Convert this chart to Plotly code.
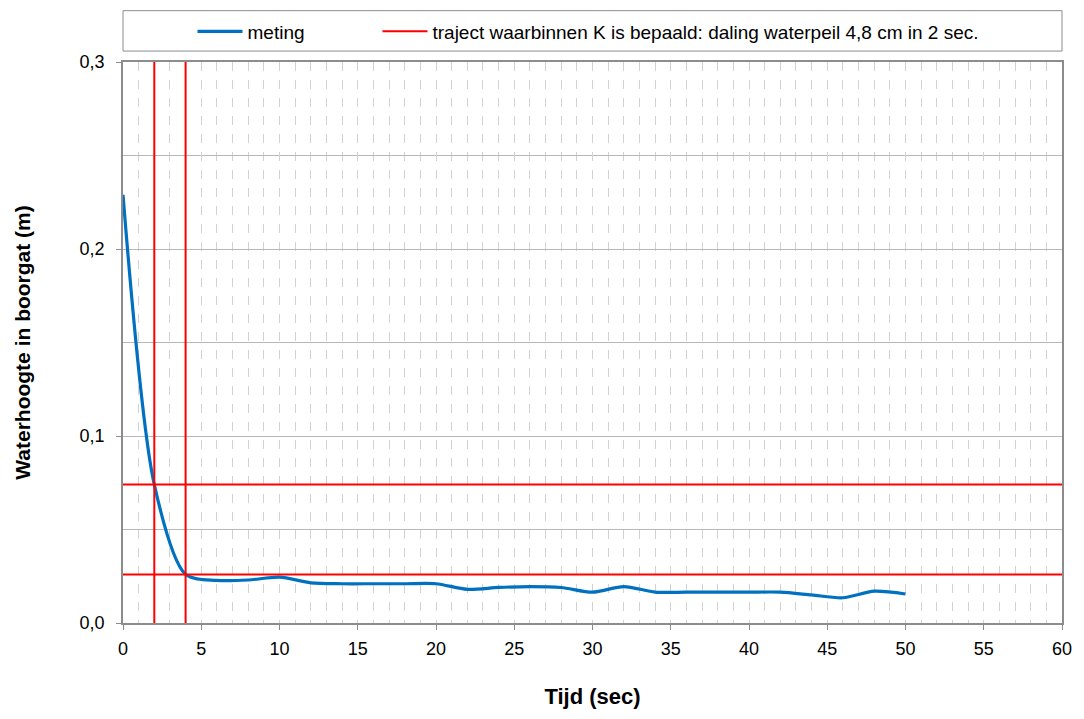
import plotly.graph_objects as go

# Measured water level in the borehole (every 2 seconds)
tijd = [0, 2, 4, 6, 8, 10, 12, 14, 16, 18, 20, 22, 24, 26, 28, 30, 32, 34, 36, 38, 40, 42, 44, 46, 48, 50]
waterhoogte = [0.229, 0.074, 0.026, 0.0228, 0.023, 0.0245, 0.0215, 0.021, 0.021, 0.021, 0.021,
               0.018, 0.019, 0.0195, 0.019, 0.0165, 0.0195, 0.0165, 0.0165, 0.0165, 0.0165,
               0.0165, 0.015, 0.0135, 0.017, 0.0155]

# Interval used to determine K
traject_t = [2, 4]
traject_h = [0.074, 0.026]

x_range = [0, 60]
y_range = [0, 0.3]

FONT = "Liberation Sans, Arial, sans-serif"

fig = go.Figure()

fig.add_trace(go.Scatter(
    x=tijd, y=waterhoogte, mode="lines", name="meting", legend="legend",
    line=dict(color="#0070c0", width=3.2, shape="spline", smoothing=0.8),
))

rx, ry = [], []
for t in traject_t:
    rx += [t, t, None]
    ry += [y_range[0], y_range[1], None]
for h in traject_h:
    rx += [x_range[0], x_range[1], None]
    ry += [h, h, None]

fig.add_trace(go.Scatter(
    x=rx, y=ry, mode="lines", legend="legend2",
    name="traject waarbinnen K is bepaald: daling waterpeil 4,8 cm in 2 sec.",
    line=dict(color="#ff0000", width=2),
))

# Legend frame spanning the plot width
fig.add_shape(type="rect", xref="paper", yref="paper", x0=0, x1=1, y0=1.0195, y1=1.0915,
              line=dict(color="#8c8c8c", width=1), fillcolor="rgba(0,0,0,0)")

legend_common = dict(orientation="h", y=1.0545, xanchor="left", yanchor="middle",
                     bgcolor="rgba(0,0,0,0)", font=dict(family=FONT, size=19), itemwidth=45)

fig.update_layout(
    width=1084, height=719,
    margin=dict(l=123, r=17, t=60, b=96),
    paper_bgcolor="white", plot_bgcolor="white",
    separators=",.",
    font=dict(family=FONT, size=18, color="#000000"),
    showlegend=True,
    legend=dict(x=0.074, **legend_common),
    legend2=dict(x=0.271, **legend_common),
    xaxis=dict(
        range=x_range, dtick=5, tick0=0,
        showline=True, linecolor="#8c8c8c", linewidth=1.5, mirror=True,
        ticks="outside", ticklen=5, tickcolor="#8c8c8c", ticklabelstandoff=4,
        showgrid=True, gridcolor="#d2d2d2", griddash="dash", gridwidth=1,
        minor=dict(dtick=1, showgrid=True, gridcolor="#d2d2d2", griddash="dash", ticks=""),
        zeroline=False,
        tickfont=dict(family=FONT, size=18),
        title=dict(text="<b>Tijd (sec)</b>", font=dict(family=FONT, size=22), standoff=30),
    ),
    yaxis=dict(
        range=y_range, dtick=0.1, tick0=0, tickformat=".1f",
        showline=True, linecolor="#8c8c8c", linewidth=1.5, mirror=True,
        ticks="outside", ticklen=5, tickcolor="#8c8c8c", ticklabelstandoff=8,
        showgrid=True, gridcolor="#b8b8b8", gridwidth=1,
        minor=dict(dtick=0.05, showgrid=True, gridcolor="#b8b8b8", ticks=""),
        zeroline=False,
        tickfont=dict(family=FONT, size=18),
        title=dict(text="<b>Waterhoogte in boorgat (m)</b>", font=dict(family=FONT, size=21), standoff=43),
    ),
)

fig.write_html("out.html")
